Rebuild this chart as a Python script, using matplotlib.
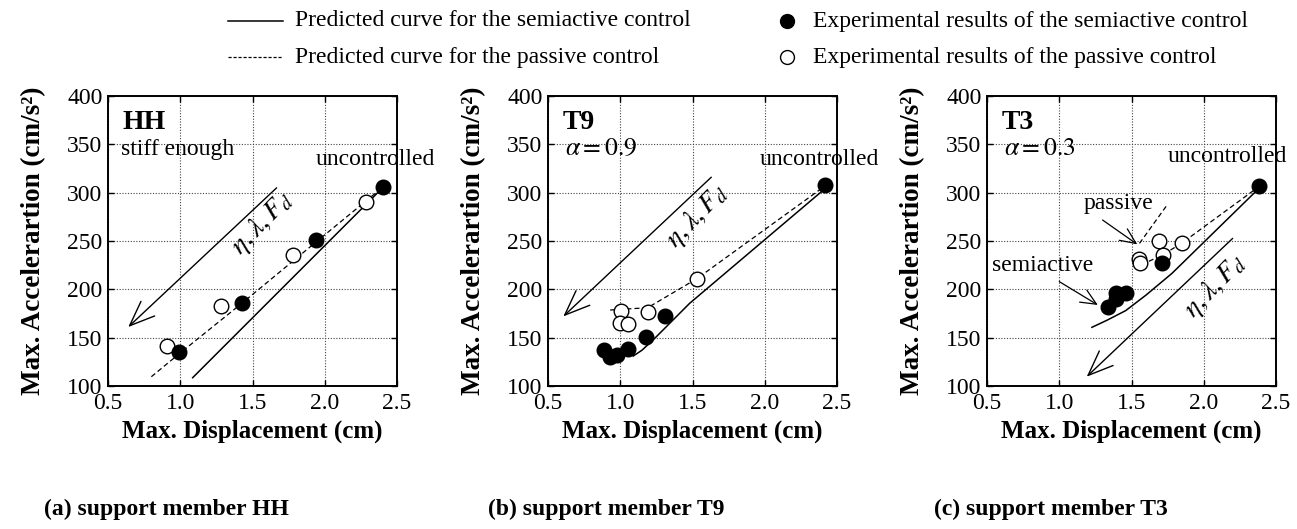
import matplotlib
matplotlib.use("Agg")
import matplotlib.pyplot as plt
from matplotlib.lines import Line2D

plt.rcParams['font.family'] = ['Liberation Serif', 'DejaVu Serif']
plt.rcParams['mathtext.fontset'] = 'stix'

# ---------------- data ----------------
x_ticks = [0.5, 1.0, 1.5, 2.0, 2.5]
y_ticks = [100, 150, 200, 250, 300, 350, 400]
x_tick_labels = ["0.5", "1.0", "1.5", "2.0", "2.5"]
y_tick_labels = ["100", "150", "200", "250", "300", "350", "400"]

# (a) HH
hh_semi_x = [2.40, 1.94, 1.43, 0.99]
hh_semi_y = [306, 251, 186, 135]
hh_pass_x = [2.285, 1.78, 1.28, 0.906]
hh_pass_y = [290, 235, 183, 141]
hh_curve_semi_x = [1.086, 2.40]
hh_curve_semi_y = [108.6, 305]
hh_curve_pass_x = [0.80, 0.99, 1.43, 1.94, 2.38]
hh_curve_pass_y = [109.6, 133, 186, 249, 303]

# (b) T9
t9_semi_x = [2.42, 1.31, 1.18, 1.056, 0.975, 0.93, 0.89]
t9_semi_y = [308, 172, 151, 138, 132, 130, 137]
t9_pass_x = [1.53, 1.19, 1.005, 0.998, 1.056]
t9_pass_y = [211, 177, 177.5, 165, 164]
t9_curve_semi_x = [1.09, 1.15, 1.227, 1.35, 1.48, 2.40]
t9_curve_semi_y = [131, 137, 147.6, 166, 185.5, 302]
t9_curve_pass_x = [0.93, 1.19, 1.53, 2.39]
t9_curve_pass_y = [178.6, 181, 211, 304]

# (c) T3
t3_semi_x = [2.38, 1.71, 1.46, 1.39, 1.337, 1.39]
t3_semi_y = [307, 227, 196, 196.5, 182, 189.7]
t3_pass_x = [1.85, 1.69, 1.72, 1.555, 1.56]
t3_pass_y = [247.5, 250, 235.5, 231, 227.5]
t3_curve_semi_x = [1.226, 1.33, 1.46, 1.60, 1.78, 2.37]
t3_curve_semi_y = [160.7, 168, 178, 194, 216.5, 302.7]
t3_curve_pass_x = [1.62, 1.72, 1.85, 2.37]
t3_curve_pass_y = [229, 236, 248, 305]
t3_curve_pass_up_x = [1.555, 1.75]
t3_curve_pass_up_y = [247.5, 288]

panel_names = ["HH", "T9", "T3"]
panel_notes = ["stiff enough", r"$\alpha = 0.9$", r"$\alpha = 0.3$"]
captions = ["(a) support member HH", "(b) support member T9", "(c) support member T3"]
legend_labels = ["Predicted curve for the semiactive control",
                 "Predicted curve for the passive control",
                 "Experimental results of the semiactive control",
                 "Experimental results of the passive control"]

# ---------------- figure ----------------
W, H = 1297, 529
fig = plt.figure(figsize=(W / 100, H / 100), dpi=100)

lefts = [108, 548, 987]
ax_w, ax_top, ax_bot = 289, 96, 386
axes = []
for l in lefts:
    ax = fig.add_axes([l / W, 1 - ax_bot / H, ax_w / W, (ax_bot - ax_top) / H])
    axes.append(ax)

data = [
    (hh_semi_x, hh_semi_y, hh_pass_x, hh_pass_y, hh_curve_semi_x, hh_curve_semi_y, hh_curve_pass_x, hh_curve_pass_y),
    (t9_semi_x, t9_semi_y, t9_pass_x, t9_pass_y, t9_curve_semi_x, t9_curve_semi_y, t9_curve_pass_x, t9_curve_pass_y),
    (t3_semi_x, t3_semi_y, t3_pass_x, t3_pass_y, t3_curve_semi_x, t3_curve_semi_y, t3_curve_pass_x, t3_curve_pass_y),
]

FS = 17
ms = 10.5
dash = (0, (4, 2.5))
for i, ax in enumerate(axes):
    sx, sy, px, py, csx, csy, cpx, cpy = data[i]
    ax.plot(csx, csy, color='black', lw=1.1, zorder=2)
    ax.plot(cpx, cpy, color='black', lw=0.9, ls=dash, zorder=2)
    ax.plot(px, py, 'o', ms=ms, mfc='white', mec='black', mew=1.0, ls='none', zorder=3)
    ax.plot(sx, sy, 'o', ms=ms, mfc='black', mec='black', mew=1.0, ls='none', zorder=4)
    ax.set_xlim(0.5, 2.5)
    ax.set_ylim(100, 400)
    ax.set_xticks(x_ticks)
    ax.set_xticklabels(x_tick_labels)
    ax.set_yticks(y_ticks)
    ax.set_yticklabels(y_tick_labels)
    ax.tick_params(direction='in', top=True, right=True, length=4, width=1,
                   labelsize=FS)
    ax.tick_params(axis='x', pad=5)
    ax.tick_params(axis='y', pad=4)
    ax.grid(True, color='#444444', ls=(0, (1, 1.5)), lw=0.8)
    for s in ax.spines.values():
        s.set_linewidth(1.4)
    ax.set_xlabel("Max. Displacement (cm)", fontsize=18, fontweight='bold', labelpad=4)
    ax.set_ylabel("Max. Accelerartion (cm/s²)", fontsize=19.5, fontweight='bold', labelpad=15)
    ax.text(0.60, 373, panel_names[i], fontsize=20, fontweight='bold', va='center', ha='left')
    if i == 0:
        ax.text(0.59, 345, panel_notes[i], fontsize=FS, va='center', ha='left')
    else:
        ax.text(0.62, 345, panel_notes[i], fontsize=18.5, va='center', ha='left')

# uncontrolled labels
axes[0].text(2.35, 334, "uncontrolled", fontsize=FS, ha='center', va='center', clip_on=False)
axes[1].text(2.38, 334, "uncontrolled", fontsize=FS, ha='center', va='center', clip_on=False)
axes[2].text(2.16, 337, "uncontrolled", fontsize=FS, ha='center', va='center', clip_on=False)

arrow_kw = dict(arrowstyle='->,head_length=0.4,head_width=0.16', lw=1.0, color='black',
                mutation_scale=45, shrinkA=0, shrinkB=0)
small_kw = dict(arrowstyle='->,head_length=0.4,head_width=0.18', lw=0.9, color='black',
                mutation_scale=28, shrinkA=0, shrinkB=0)
# parameter arrows
axes[0].annotate("", xy=(0.64, 161), xytext=(1.667, 305), arrowprops=arrow_kw)
axes[0].text(1.57, 268, r"$\eta,\lambda,F_d$", fontsize=20, rotation=46, ha='center', va='center')
axes[1].annotate("", xy=(0.606, 172), xytext=(1.63, 316), arrowprops=arrow_kw)
axes[1].text(1.53, 276, r"$\eta,\lambda,F_d$", fontsize=20, rotation=46, ha='center', va='center')
axes[2].annotate("", xy=(1.19, 109.6), xytext=(2.20, 252.7), arrowprops=arrow_kw)
axes[2].text(2.08, 203, r"$\eta,\lambda,F_d$", fontsize=20, rotation=46, ha='center', va='center')

# passive / semiactive pointers in (c)
axes[2].plot(t3_curve_pass_up_x, t3_curve_pass_up_y, color='black', lw=0.9, ls=dash, zorder=2)
axes[2].text(1.41, 289, "passive", fontsize=FS, ha='center', va='center')
axes[2].annotate("", xy=(1.54, 246.5), xytext=(1.30, 271.7), arrowprops=small_kw)
axes[2].text(0.886, 225, "semiactive", fontsize=FS, ha='center', va='center')
axes[2].annotate("", xy=(1.267, 183.8), xytext=(1.00, 208), arrowprops=small_kw)

# captions
for cx, cap in zip([166, 606, 1051], captions):
    fig.text(cx / W, 1 - 509 / H, cap, fontsize=17, fontweight='bold', ha='center', va='center')

# legend (manual)
def fy(py):
    return 1 - py / H

fig.add_artist(Line2D([228 / W, 283 / W], [fy(21), fy(21)], color='black', lw=1.1))
fig.add_artist(Line2D([228 / W, 283 / W], [fy(57), fy(57)], color='black', lw=0.9, ls=(0, (2.5, 1.5))))
fig.text(295 / W, fy(21), legend_labels[0], fontsize=17, ha='left', va='center')
fig.text(295 / W, fy(57), legend_labels[1], fontsize=17, ha='left', va='center')
fig.add_artist(Line2D([787 / W], [fy(21)], marker='o', ms=10, mfc='black', mec='black', ls='none'))
fig.add_artist(Line2D([787 / W], [fy(57)], marker='o', ms=10, mfc='white', mec='black', mew=1.0, ls='none'))
fig.text(813 / W, fy(21), legend_labels[2], fontsize=17, ha='left', va='center')
fig.text(813 / W, fy(57), legend_labels[3], fontsize=17, ha='left', va='center')

fig.savefig("out.png", dpi=100)
